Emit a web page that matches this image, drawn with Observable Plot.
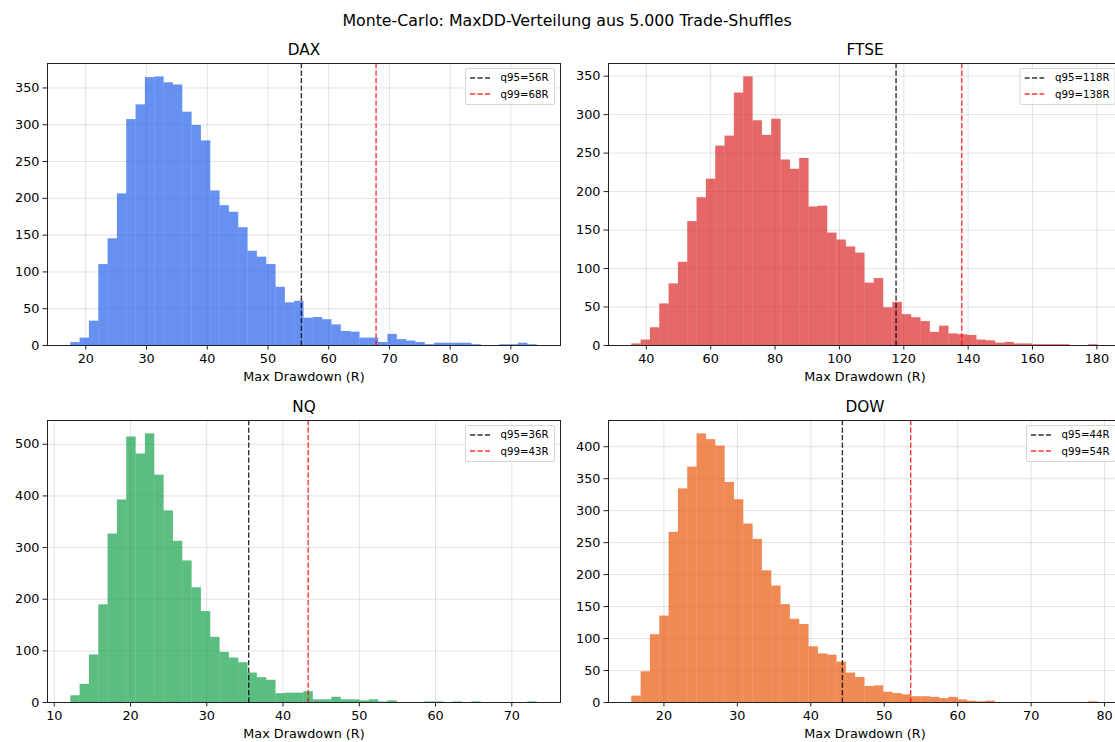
<!DOCTYPE html>
<html><head><meta charset="utf-8">
<script src="https://cdn.jsdelivr.net/npm/d3@7"></script>
<script src="https://cdn.jsdelivr.net/npm/@observablehq/plot@0.6"></script>
<style>
body{margin:0;background:#fff;}
#fig{position:relative;width:1115px;height:742px;overflow:hidden;background:#fff;font-family:"DejaVu Sans",sans-serif;}
.panel{position:absolute;}
.panel svg{background:transparent !important;max-width:none !important;overflow:visible;}
.suptitle{position:absolute;left:0;width:1134px;top:11px;text-align:center;font-size:15.8px;color:#000;line-height:20px;}
.legend{position:absolute;transform:translateX(-100%);background:rgba(255,255,255,0.8);border:1px solid #d5d5d5;border-radius:2px;padding:1px 5px 1px 4px;font-size:10.2px;color:#000;}
.legend .row{display:flex;align-items:center;height:16.5px;white-space:nowrap;}
.legend svg{margin-right:11px;display:block;}
</style></head>
<body><div id="fig"><div class="suptitle">Monte-Carlo: MaxDD-Verteilung aus 5.000 Trade-Shuffles</div></div>
<script>
// ---- data ----
const panelNames = ["DAX", "FTSE", "NQ", "DOW"];
const colors = ["#2563eb", "#dc2626", "#16a34a", "#ea580c"];

const daxCounts = [4,10,33,110,145,206,307,327,364,365,357,354,317,299,278,210,190,181,160,128,120,110,79,58,60,37,38,35,28,19,18,10,10,4,15,8,6,4,1,3,3,3,3,1,0,0,1,1,3,1];
const ftseCounts = [2,7,23,54,80,108,161,192,216,259,272,328,349,292,273,294,241,229,243,180,181,146,137,128,120,81,87,49,56,40,36,31,17,25,15,14,13,7,6,3,4,2,2,1,1,1,1,0,0,1];
const nqCounts = [13,35,92,189,326,392,514,481,520,440,371,312,274,222,176,126,97,86,77,57,48,43,17,18,18,21,5,5,10,5,5,3,5,1,3,0,0,0,1,1,0,1,0,1,0,0,0,0,0,1];
const dowCounts = [10,48,106,135,266,334,368,420,411,401,344,317,279,255,206,182,153,130,122,87,76,74,63,46,39,25,26,16,14,12,9,9,8,6,8,4,2,1,2,0,0,0,0,0,0,0,0,0,0,1];

// bin range (min, max of simulated MaxDD) per panel
const binMin = [17.53, 35.5, 12.17, 15.63];
const binMax = [94.33, 180.4, 73.33, 79.13];

// quantile lines
const q95 = [55.5, 117.6, 35.5, 44.3];
const q99 = [67.8, 138.0, 43.3, 53.6];
const q95Labels = ["q95=56R", "q95=118R", "q95=36R", "q95=44R"];
const q99Labels = ["q99=68R", "q99=138R", "q99=43R", "q99=54R"];

// tick labels
const xTicks = [
  [20,30,40,50,60,70,80,90],
  [40,60,80,100,120,140,160,180],
  [10,20,30,40,50,60,70],
  [20,30,40,50,60,70,80]
];
const yTicks = [
  [0,50,100,150,200,250,300,350],
  [0,50,100,150,200,250,300,350],
  [0,100,200,300,400,500],
  [0,50,100,150,200,250,300,350,400]
];
const xLabel = "Max Drawdown (R)";
const allCounts = [daxCounts, ftseCounts, nqCounts, dowCounts];

// ---- layout ----
const fig = document.getElementById("fig");
const layout = [
  {left: 0,   top: 30,  mL: 47, mR: 20, mT: 33, mB: 42, w: 580, h: 357},
  {left: 560, top: 30,  mL: 48, mR: 19, mT: 33, mB: 42, w: 580, h: 357},
  {left: 0,   top: 387, mL: 47, mR: 20, mT: 33, mB: 40, w: 580, h: 355},
  {left: 560, top: 387, mL: 48, mR: 19, mT: 33, mB: 40, w: 580, h: 355}
];

panelNames.forEach((name, k) => {
  const L = layout[k];
  const counts = allCounts[k];
  const lo = binMin[k], hi = binMax[k];
  const n = counts.length, bw = (hi - lo) / n;
  const bins = counts.map((c, i) => ({x1: lo + i * bw, x2: lo + (i + 1) * bw, y: c})).filter(d => d.y > 0);
  const pad = 0.05 * (hi - lo);
  const ymax = d3.max(counts) * 1.05;
  const plot = Plot.plot({
    width: L.w, height: L.h,
    marginLeft: L.mL, marginRight: L.mR, marginTop: L.mT, marginBottom: L.mB,
    style: {fontFamily: "DejaVu Sans", fontSize: "12.8px", color: "#000", background: "transparent"},
    x: {domain: [lo - pad, hi + pad], label: null},
    y: {domain: [0, ymax], label: null},
    marks: [
      Plot.gridX(xTicks[k], {stroke: "#b0b0b0", strokeOpacity: 0.35, strokeWidth: 1}),
      Plot.gridY(yTicks[k], {stroke: "#b0b0b0", strokeOpacity: 0.35, strokeWidth: 1}),
      Plot.rectY(bins, {x1: "x1", x2: "x2", y: "y", fill: colors[k], fillOpacity: 0.7, stroke: colors[k], strokeWidth: 0.2, strokeOpacity: 0.2}),
      Plot.ruleX([q95[k]], {stroke: "black", strokeOpacity: 0.8, strokeWidth: 1.4, strokeDasharray: "5.2,2.3"}),
      Plot.ruleX([q99[k]], {stroke: "red", strokeOpacity: 0.8, strokeWidth: 1.4, strokeDasharray: "5.2,2.3"}),
      Plot.frame({stroke: "#222", strokeWidth: 1}),
      Plot.axisX(xTicks[k], {tickSize: 4.5, tickPadding: 3.5, fontSize: 12.8, stroke: "#222", label: null}),
      Plot.axisY(yTicks[k], {tickSize: 4.5, tickPadding: 3.5, fontSize: 12.8, stroke: "#222", label: null}),
      Plot.text([name], {frameAnchor: "top", lineAnchor: "bottom", dy: -9, fontSize: 15.3, fill: "#000"}),
      Plot.text([xLabel], {frameAnchor: "bottom", lineAnchor: "middle", dy: 31.5, fontSize: 12.8, fill: "#000"})
    ]
  });
  const wrap = document.createElement("div");
  wrap.className = "panel";
  wrap.style.left = L.left + "px";
  wrap.style.top = L.top + "px";
  wrap.appendChild(plot);
  fig.appendChild(wrap);

  // legend
  const frameRight = L.left + L.w - L.mR;
  const frameTop = L.top + L.mT;
  const leg = document.createElement("div");
  leg.className = "legend";
  leg.style.left = (frameRight - 5.5) + "px";
  leg.style.top = (frameTop + 4.5) + "px";
  [[q95Labels[k], "rgba(0,0,0,0.8)"], [q99Labels[k], "rgba(255,0,0,0.8)"]].forEach(([lab, col]) => {
    const row = document.createElement("div");
    row.className = "row";
    row.innerHTML = `<svg width="20" height="6"><line x1="0" y1="3" x2="20" y2="3" stroke="${col}" stroke-width="1.4" stroke-dasharray="5.2,2.3"/></svg><span>${lab}</span>`;
    leg.appendChild(row);
  });
  fig.appendChild(leg);
});
</script>
</body></html>
